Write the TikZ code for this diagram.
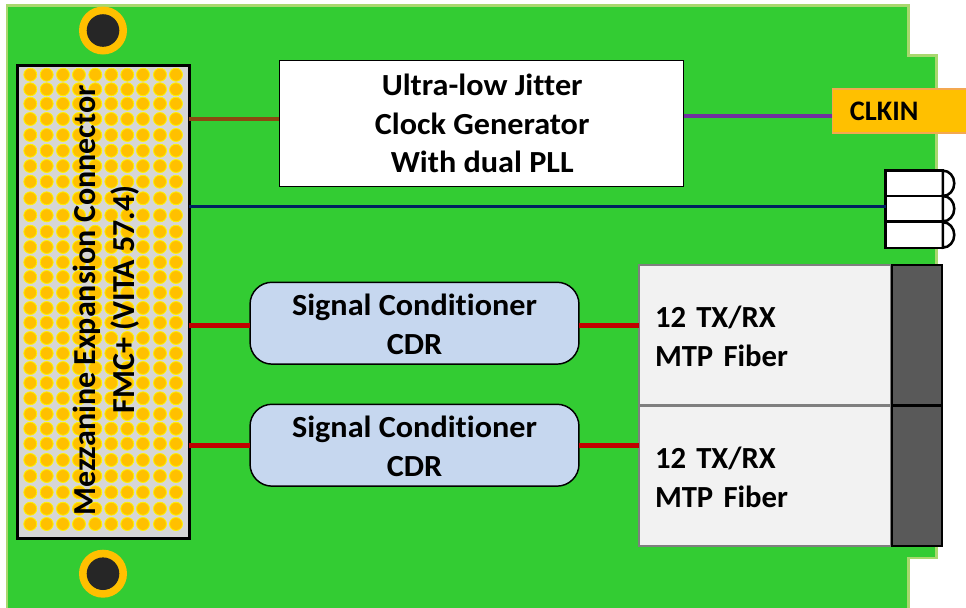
\documentclass[tikz,border=0pt]{standalone}
\usepackage{fontspec}
\setmainfont{Carlito}[BoldFont={Carlito Bold},Ligatures=NoCommon]
\newfontfamily\widefont{Carlito}[BoldFont={Carlito Bold},Ligatures=NoCommon,FakeStretch=1.05]
\definecolor{boardg}{HTML}{33CC33}
\definecolor{boarde}{HTML}{A9D86E}
\definecolor{gold}{HTML}{FFC000}
\definecolor{goldedge}{HTML}{FFF200}
\definecolor{hole}{HTML}{262626}
\definecolor{conng}{HTML}{D6D6D6}
\definecolor{brownl}{HTML}{8B4A10}
\definecolor{purplel}{HTML}{7030A0}
\definecolor{navyl}{HTML}{002060}
\definecolor{redl}{HTML}{C00000}
\definecolor{bluebox}{HTML}{C6D7EF}
\definecolor{fibfill}{HTML}{F2F2F2}
\definecolor{fibedge}{HTML}{7F7F7F}
\definecolor{fibdark}{HTML}{595959}
\definecolor{clkedge}{HTML}{F4A850}
\newcommand{\lowertext}{\rule{0pt}{18pt}}
\tikzset{
  x=0.75pt,y=-0.75pt,
  every node/.style={inner sep=0pt,outer sep=0pt},
  clockbox/.style={draw=black,line width=0.9pt,fill=white,minimum width=303.3pt,minimum height=94.2pt,align=center,font=\widefont\fontsize{23}{28.8}\selectfont\bfseries},
  condbox/.style={draw=black,line width=1.1pt,fill=bluebox,rounded corners=16.5pt,minimum width=246.7pt,minimum height=61.4pt,align=center,font=\widefont\fontsize{23}{28.8}\selectfont\bfseries},
  fibbox/.style={draw=fibedge,line width=1.6pt,fill=fibfill,minimum height=105.4pt,inner xsep=12pt,text width=165pt,align=left,font=\fontsize{23}{29.2}\selectfont\bfseries},
  fibcap/.style={draw=black,line width=1.8pt,fill=fibdark,minimum width=37.9pt,minimum height=105.4pt},
  ledbox/.style={draw=black,line width=1.9pt,fill=white,minimum width=43pt,minimum height=19.2pt},
  clkbox/.style={draw=clkedge,line width=1.2pt,fill=gold,anchor=west,minimum width=150pt,minimum height=33.4pt,text width=150pt,align=left,font=\fontsize{21.2}{25}\selectfont\bfseries},
  sig/.style={line width=#1*0.75pt},
  vtext/.style={rotate=90,anchor=base west,font=\fontsize{24}{28}\selectfont\bfseries}
}
\begin{document}
\begin{tikzpicture}
\useasboundingbox (0,0) rectangle (966,607);
\clip (0,0) rectangle (966,607);
\fill[white] (0,0) rectangle (966,607);
% board
\draw[fill=boardg,draw=boarde,line width=1.9pt] (7,5.5) -- (908.3,5.5) -- (908.3,55.5) -- (936.7,55.5) -- (936.7,558) -- (908.3,558) -- (908.3,620) -- (7,620) -- cycle;
% mounting holes
\foreach \cy in {30.5,573.7}{
  \fill[gold] (103,\cy) circle (24);
  \fill[hole] (103,\cy) circle (16.3);
}
% boxes
\node[draw=black,line width=2.3pt,fill=conng,minimum width=128.9pt,minimum height=354.6pt] (conn) at (103.2,302.1) {};
\foreach \yy in {74.7,89.3,103.7,119,135,150.7,166,181.7,198.3,215.3,231.7,247,262.3,277,292.7,308,322.7,338,353.3,368,383,398.3,414,428.7,443.7,460,476,492.3,508.7,524}{
  \foreach \xx in {30.3,46.7,63,79,95.3,111.3,127.3,143,160,176}{
    \draw[fill=gold,draw=goldedge,line width=0.6pt] (\xx,\yy) circle (6.5);
  }
}
\node[vtext] (mezz) at (95,515.5) {Mezzanine Expansion Connector};
\node[vtext] (fmc) at (134,413) {FMC+ (VITA 57.4)};

\node[clockbox] (clock) at (481.5,123.5) {\hspace{1pt}Ultra-low Jitter\\\hspace{1pt}Clock Generator\\\hspace{1pt}With dual PLL};
\node[condbox] (cond1) at (414.5,323.2) {\lowertext Signal Conditioner\\CDR};
\node[condbox] (cond2) at (414.5,445.2) {\lowertext Signal Conditioner\\CDR};
\node[fibbox,anchor=west] (fib1) at (639,335.3) {\lowertext 12 TX/RX\\MTP Fiber};
\node[fibbox,anchor=west] (fib2) at (639,475.7) {\lowertext 12 TX/RX\\MTP Fiber};
\node[fibcap] (cap1) at (917,335.3) {};
\node[fibcap] (cap2) at (917,475.7) {};
\node[clkbox] (clk) at (832.3,111) {\hspace{13.2pt}CLKIN};
% LEDs
\foreach \i/\yc in {1/183.4,2/208.8,3/235}{
  \node[ledbox] (led\i) at (914.3,\yc) {};
  \draw[black,line width=1.9pt,fill=white] (led\i.north east) arc[start angle=-90,end angle=90,x radius=11.3,y radius=12.7] -- cycle;
}
% connectors
\draw[brownl,sig=3.6] (conn.east |- 0,118.7) -- (clock.west |- 0,118.7);
\draw[purplel,sig=3.4] (clock.east |- 0,116) -- (clk.west |- 0,116);
\draw[navyl,sig=3.4] (conn.east |- 0,206.3) -- (led2.west |- 0,206.3);
\draw[redl,sig=5] (conn.east |- 0,325) -- (cond1.west |- 0,325);
\draw[redl,sig=5] (cond1.east |- 0,325) -- (fib1.west |- 0,325);
\draw[redl,sig=5] (conn.east |- 0,445.7) -- (cond2.west |- 0,445.7);
\draw[redl,sig=5] (cond2.east |- 0,445.7) -- (fib2.west |- 0,445.7);
\end{tikzpicture}
\end{document}
